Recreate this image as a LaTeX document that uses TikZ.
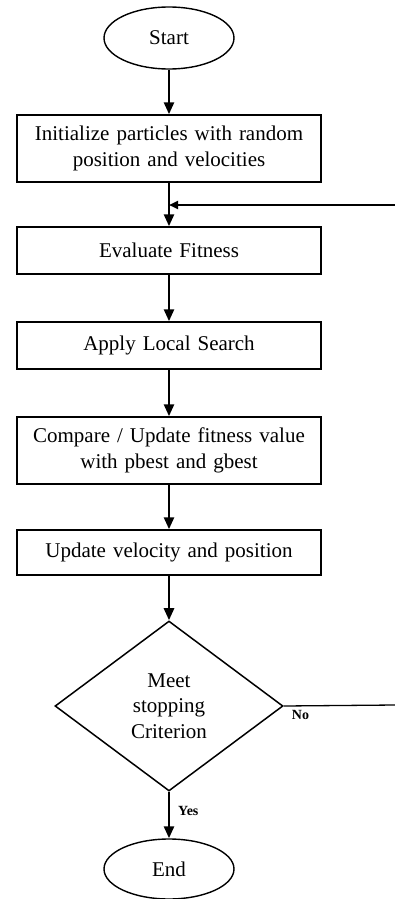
\documentclass[tikz,border=0pt]{standalone}
\usepackage{fontspec}
\setmainfont{Liberation Serif}
\usetikzlibrary{shapes.geometric,arrows.meta}
\begin{document}
\begin{tikzpicture}[x=1pt,y=-1pt,
  every node/.style={font=\fontsize{21}{25.5}\selectfont, align=center, inner sep=0pt},
  procbox/.style={draw, line width=1.5pt, minimum width=304pt, text width=296pt},
  terminal/.style={draw, ellipse, line width=1.4pt, minimum width=130pt, minimum height=62pt},
  decision/.style={draw, diamond, aspect=1.34, line width=1.5pt, minimum width=228pt, minimum height=170pt},
  flow/.style={line width=2.6pt, -{Triangle[length=12pt,width=10pt]}},
  backflow/.style={line width=2.2pt, -{Triangle[length=9pt,width=8pt]}},
  lbl/.style={font=\fontsize{14}{16}\selectfont\bfseries}]
  \useasboundingbox (0,0) rectangle (395,899);

  % terminals
  \node[terminal] (start) at (169,38) {Start};
  \node[terminal, minimum height=60pt] (stop) at (169,869) {End};

  % process steps
  \node[procbox, minimum height=67pt] (init) at (169,148.5)
    {Initialize particles with random\\position and velocities};
  \node[procbox, minimum height=47pt] (eval) at (169,250.5) {Evaluate Fitness};
  \node[procbox, minimum height=47pt] (local) at (169,345.5) {Apply Local Search};
  \node[procbox, minimum height=67pt] (cmp) at (169,450.5)
    {Compare / Update fitness value\\with pbest and gbest};
  \node[procbox, minimum height=45pt] (upd) at (169,552.5) {Update velocity and position};

  % stopping test
  \node[decision] (dec) at (169,706) {Meet\\stopping\\Criterion};

  % main flow
  \draw[flow] (start) -- (init);
  \draw[flow] (init) -- (eval);
  \draw[flow] (eval) -- (local);
  \draw[flow] (local) -- (cmp);
  \draw[flow] (cmp) -- (upd);
  \draw[flow] (upd) -- (dec);
  \draw[flow] (dec.south) -- (stop);
  \node[lbl, anchor=west] at ([xshift=9pt,yshift=-19pt]dec.south) {Yes};

  % loop back
  \coordinate (noend) at (395,705);
  \coordinate (backin) at (395,205);
  \draw[line width=1.3pt] (dec.east) -- (noend);
  \node[lbl, anchor=west] at ([xshift=8pt,yshift=-9pt]dec.east) {No};
  \draw[backflow] (backin) -- (backin -| init.south);
\end{tikzpicture}
\end{document}
